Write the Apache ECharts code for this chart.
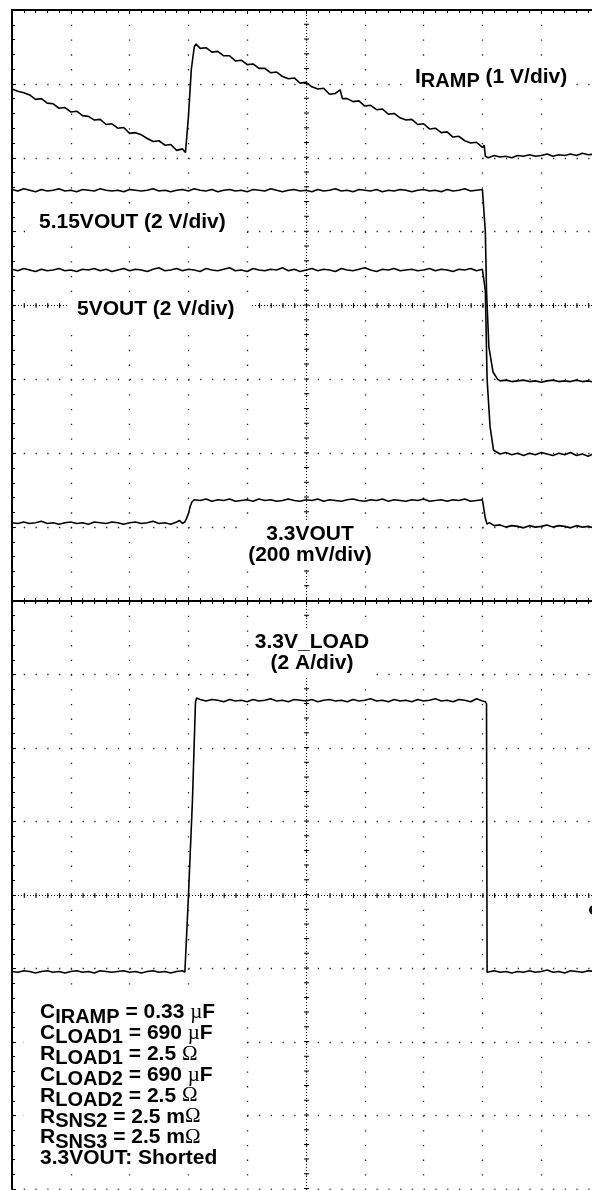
<!DOCTYPE html>
<html>
<head>
<meta charset="utf-8">
<script src="https://cdn.jsdelivr.net/npm/echarts@6/dist/echarts.min.js"></script>
<style>
* {
  margin: 0;
  padding: 0;
}
#chart-container {
  width: 592px;
  height: 1190px;
  background: #fff;
}
</style>
</head>
<body>
<div id="chart-container"></div>
<script>
// scope traces, in divisions: x = time div (0..10), y = div from bottom of its pane (0..8)
const iramp = [
  [0, 6.93], [0.1, 6.90], [0.2, 6.88], [0.3, 6.85], [0.4, 6.79], [0.5, 6.80], [0.6, 6.74], [0.7, 6.73],
  [0.8, 6.67], [0.9, 6.68], [1.0, 6.62], [1.1, 6.63], [1.2, 6.57], [1.3, 6.56], [1.4, 6.51], [1.5, 6.52],
  [1.6, 6.45], [1.7, 6.46], [1.8, 6.40], [1.9, 6.41], [2.0, 6.33], [2.1, 6.34], [2.2, 6.31], [2.3, 6.26],
  [2.4, 6.22], [2.5, 6.23], [2.6, 6.17], [2.7, 6.18], [2.8, 6.10], [2.9, 6.12], [2.95, 6.07], [3.0, 6.55],
  [3.05, 7.2], [3.1, 7.5], [3.13, 7.54], [3.2, 7.48], [3.3, 7.49], [3.4, 7.43], [3.5, 7.44], [3.6, 7.38],
  [3.7, 7.38], [3.8, 7.31], [3.9, 7.32], [4.0, 7.26], [4.1, 7.27], [4.2, 7.21], [4.3, 7.21], [4.4, 7.15],
  [4.5, 7.16], [4.6, 7.10], [4.7, 7.07], [4.8, 7.08], [4.9, 7.01], [5.0, 7.02], [5.1, 6.96], [5.2, 6.93],
  [5.3, 6.94], [5.4, 6.86], [5.5, 6.87], [5.58, 6.92], [5.62, 6.80], [5.7, 6.80], [5.8, 6.76], [5.9, 6.77],
  [6.0, 6.70], [6.1, 6.71], [6.2, 6.65], [6.3, 6.66], [6.4, 6.59], [6.5, 6.60], [6.6, 6.54], [6.7, 6.51],
  [6.8, 6.52], [6.9, 6.45], [7.0, 6.46], [7.1, 6.39], [7.2, 6.40], [7.3, 6.34], [7.4, 6.35], [7.5, 6.28],
  [7.6, 6.29], [7.7, 6.23], [7.8, 6.20], [7.9, 6.21], [8.0, 6.14], [8.03, 6.17], [8.05, 6.02], [8.1, 6.00],
  [8.2, 6.03], [8.3, 6.01], [8.4, 6.02], [8.5, 6.00], [8.6, 6.03], [8.7, 6.02], [8.8, 6.04], [8.9, 6.02],
  [9.0, 6.03], [9.1, 6.05], [9.2, 6.02], [9.3, 6.04], [9.4, 6.03], [9.5, 6.05], [9.6, 6.03], [9.7, 6.06],
  [9.8, 6.04], [9.9, 6.05], [10.0, 6.04]
]

const vout515 = [
  [0, 5.57], [0.1, 5.55], [0.2, 5.58], [0.3, 5.56], [0.4, 5.54], [0.5, 5.57], [0.6, 5.55], [0.7, 5.56],
  [0.8, 5.58], [0.9, 5.55], [1.0, 5.56], [1.1, 5.54], [1.2, 5.57], [1.3, 5.56], [1.4, 5.55], [1.5, 5.58],
  [1.6, 5.56], [1.7, 5.55], [1.8, 5.56], [1.9, 5.54], [2.0, 5.57], [2.1, 5.56], [2.2, 5.55], [2.3, 5.56],
  [2.4, 5.58], [2.5, 5.55], [2.6, 5.56], [2.7, 5.54], [2.8, 5.56], [2.9, 5.57], [3.0, 5.55], [3.1, 5.58],
  [3.2, 5.56], [3.3, 5.55], [3.4, 5.57], [3.5, 5.54], [3.6, 5.56], [3.7, 5.57], [3.8, 5.55], [3.9, 5.56],
  [4.0, 5.54], [4.1, 5.57], [4.2, 5.56], [4.3, 5.55], [4.4, 5.58], [4.5, 5.56], [4.6, 5.54], [4.7, 5.56],
  [4.8, 5.57], [4.9, 5.55], [5.0, 5.56], [5.1, 5.54], [5.2, 5.57], [5.3, 5.55], [5.4, 5.56], [5.5, 5.58],
  [5.6, 5.55], [5.7, 5.56], [5.8, 5.54], [5.9, 5.57], [6.0, 5.56], [6.1, 5.55], [6.2, 5.57], [6.3, 5.54],
  [6.4, 5.56], [6.5, 5.55], [6.6, 5.57], [6.7, 5.56], [6.8, 5.54], [6.9, 5.56], [7.0, 5.57], [7.1, 5.55],
  [7.2, 5.56], [7.3, 5.54], [7.4, 5.57], [7.5, 5.55], [7.6, 5.56], [7.7, 5.58], [7.8, 5.55], [7.9, 5.56],
  [8.0, 5.57], [8.03, 5.58], [8.05, 5.0], [8.07, 4.2], [8.11, 3.44], [8.18, 3.1], [8.26, 3.0], [8.3, 2.98],
  [8.4, 2.99], [8.5, 2.97], [8.6, 2.98], [8.7, 2.99], [8.8, 2.97], [8.9, 2.98], [9.0, 2.96], [9.1, 2.98],
  [9.2, 2.99], [9.3, 2.97], [9.4, 2.98], [9.5, 2.97], [9.6, 2.99], [9.7, 2.97], [9.8, 2.98], [9.9, 2.96],
  [10.0, 2.98]
]

const vout5 = [
  [0, 4.49], [0.1, 4.47], [0.2, 4.50], [0.3, 4.48], [0.4, 4.46], [0.5, 4.49], [0.6, 4.47], [0.7, 4.48],
  [0.8, 4.50], [0.9, 4.47], [1.0, 4.48], [1.1, 4.46], [1.2, 4.49], [1.3, 4.48], [1.4, 4.50], [1.5, 4.47],
  [1.6, 4.49], [1.7, 4.46], [1.8, 4.48], [1.9, 4.50], [2.0, 4.47], [2.1, 4.49], [2.2, 4.48], [2.3, 4.46],
  [2.4, 4.49], [2.5, 4.51], [2.6, 4.47], [2.7, 4.48], [2.8, 4.50], [2.9, 4.47], [3.0, 4.49], [3.1, 4.48],
  [3.2, 4.46], [3.3, 4.50], [3.4, 4.48], [3.5, 4.47], [3.6, 4.49], [3.7, 4.51], [3.8, 4.47], [3.9, 4.48],
  [4.0, 4.46], [4.1, 4.50], [4.2, 4.48], [4.3, 4.47], [4.4, 4.49], [4.5, 4.48], [4.6, 4.51], [4.7, 4.47],
  [4.8, 4.49], [4.9, 4.46], [5.0, 4.48], [5.1, 4.50], [5.2, 4.47], [5.3, 4.49], [5.4, 4.48], [5.5, 4.46],
  [5.6, 4.50], [5.7, 4.48], [5.8, 4.47], [5.9, 4.49], [6.0, 4.51], [6.1, 4.48], [6.2, 4.46], [6.3, 4.49],
  [6.4, 4.48], [6.5, 4.50], [6.6, 4.47], [6.7, 4.48], [6.8, 4.49], [6.9, 4.47], [7.0, 4.48], [7.1, 4.50],
  [7.2, 4.47], [7.3, 4.49], [7.4, 4.48], [7.5, 4.46], [7.6, 4.49], [7.7, 4.48], [7.8, 4.50], [7.9, 4.47],
  [8.0, 4.49], [8.03, 4.47], [8.05, 4.2], [8.08, 3.0], [8.13, 2.36], [8.19, 2.04], [8.3, 1.99], [8.4, 2.01],
  [8.5, 1.98], [8.6, 2.00], [8.7, 1.97], [8.8, 2.00], [8.9, 1.98], [9.0, 2.01], [9.1, 1.99], [9.2, 1.97],
  [9.3, 2.00], [9.4, 1.98], [9.5, 2.01], [9.6, 1.97], [9.7, 1.99], [9.8, 1.96], [9.9, 2.00], [10.0, 1.97]
]

const vout33 = [
  [0, 1.06], [0.1, 1.05], [0.2, 1.07], [0.3, 1.05], [0.4, 1.06], [0.5, 1.08], [0.6, 1.05], [0.7, 1.06],
  [0.8, 1.04], [0.9, 1.06], [1.0, 1.07], [1.1, 1.05], [1.2, 1.06], [1.3, 1.04], [1.4, 1.07], [1.5, 1.06],
  [1.6, 1.05], [1.7, 1.07], [1.8, 1.06], [1.9, 1.04], [2.0, 1.06], [2.1, 1.07], [2.2, 1.05], [2.3, 1.06],
  [2.4, 1.08], [2.5, 1.05], [2.6, 1.06], [2.7, 1.04], [2.8, 1.07], [2.85, 1.09], [2.9, 1.05], [2.94, 1.07],
  [2.97, 1.12], [3.0, 1.18], [3.03, 1.28], [3.06, 1.34], [3.1, 1.37], [3.2, 1.36], [3.3, 1.38], [3.4, 1.35],
  [3.5, 1.37], [3.6, 1.36], [3.7, 1.38], [3.8, 1.35], [3.9, 1.36], [4.0, 1.37], [4.1, 1.35], [4.2, 1.38],
  [4.3, 1.36], [4.4, 1.37], [4.5, 1.35], [4.6, 1.36], [4.7, 1.38], [4.8, 1.36], [4.9, 1.35], [5.0, 1.37],
  [5.1, 1.36], [5.2, 1.38], [5.3, 1.35], [5.4, 1.37], [5.5, 1.36], [5.6, 1.35], [5.7, 1.37], [5.8, 1.38],
  [5.9, 1.36], [6.0, 1.35], [6.1, 1.37], [6.2, 1.36], [6.3, 1.38], [6.4, 1.35], [6.5, 1.37], [6.6, 1.36],
  [6.7, 1.35], [6.8, 1.37], [6.9, 1.36], [7.0, 1.38], [7.1, 1.35], [7.2, 1.36], [7.3, 1.37], [7.4, 1.35],
  [7.5, 1.37], [7.6, 1.36], [7.7, 1.38], [7.8, 1.35], [7.9, 1.36], [8.0, 1.37], [8.03, 1.39], [8.05, 1.12],
  [8.08, 1.04], [8.12, 1.06], [8.2, 1.02], [8.3, 1.03], [8.4, 1.00], [8.5, 1.02], [8.6, 1.01], [8.7, 0.99],
  [8.8, 1.02], [8.9, 1.00], [9.0, 1.01], [9.1, 1.03], [9.2, 1.00], [9.3, 1.02], [9.4, 1.01], [9.5, 0.99],
  [9.6, 1.02], [9.7, 1.00], [9.8, 1.01], [9.9, 0.99], [10.0, 1.01]
]

const iload = [
  [0, 2.96], [0.1, 2.95], [0.2, 2.97], [0.3, 2.96], [0.4, 2.94], [0.5, 2.96], [0.6, 2.97], [0.7, 2.95],
  [0.8, 2.96], [0.9, 2.94], [1.0, 2.96], [1.1, 2.97], [1.2, 2.95], [1.3, 2.96], [1.4, 2.94], [1.5, 2.97],
  [1.6, 2.96], [1.7, 2.95], [1.8, 2.96], [1.9, 2.97], [2.0, 2.95], [2.1, 2.96], [2.2, 2.94], [2.3, 2.96],
  [2.4, 2.97], [2.5, 2.95], [2.6, 2.96], [2.7, 2.94], [2.8, 2.96], [2.9, 2.97], [2.94, 2.95], [3.0, 3.98],
  [3.07, 5.31], [3.12, 6.62], [3.14, 6.68], [3.2, 6.66], [3.3, 6.64], [3.4, 6.66], [3.5, 6.65], [3.6, 6.63],
  [3.7, 6.66], [3.8, 6.64], [3.9, 6.65], [4.0, 6.63], [4.1, 6.66], [4.2, 6.64], [4.3, 6.65], [4.4, 6.67],
  [4.5, 6.64], [4.6, 6.65], [4.7, 6.63], [4.8, 6.66], [4.9, 6.65], [5.0, 6.64], [5.1, 6.66], [5.2, 6.63],
  [5.3, 6.65], [5.4, 6.66], [5.5, 6.64], [5.6, 6.65], [5.7, 6.63], [5.8, 6.66], [5.9, 6.64], [6.0, 6.65],
  [6.1, 6.67], [6.2, 6.64], [6.3, 6.65], [6.4, 6.63], [6.5, 6.66], [6.6, 6.64], [6.7, 6.65], [6.8, 6.63],
  [6.9, 6.66], [7.0, 6.64], [7.1, 6.65], [7.2, 6.67], [7.3, 6.64], [7.4, 6.65], [7.5, 6.63], [7.6, 6.66],
  [7.7, 6.65], [7.8, 6.63], [7.9, 6.67], [8.0, 6.64], [8.05, 6.63], [8.07, 6.60], [8.08, 2.95], [8.2, 2.97],
  [8.3, 2.95], [8.4, 2.96], [8.5, 2.94], [8.6, 2.96], [8.7, 2.95], [8.8, 2.97], [8.9, 2.95], [9.0, 2.96],
  [9.1, 2.98], [9.2, 2.95], [9.3, 2.96], [9.4, 2.94], [9.5, 2.97], [9.6, 2.96], [9.7, 2.95], [9.8, 2.97],
  [9.9, 2.96], [10.0, 2.95]
]

// annotation texts
const paramLines = [
  '{m|C}{s|IRAMP}{m| = 0.33 }{g|µ}{m|F}',
  '{m|C}{s|LOAD1}{m| = 690 }{g|µ}{m|F}',
  '{m|R}{s|LOAD1}{m| = 2.5 }{g|Ω}',
  '{m|C}{s|LOAD2}{m| = 690 }{g|µ}{m|F}',
  '{m|R}{s|LOAD2}{m| = 2.5 }{g|Ω}',
  '{m|R}{s|SNS2}{m| = 2.5 m}{g|Ω}',
  '{m|R}{s|SNS3}{m| = 2.5 m}{g|Ω}',
  '{m|3.3VOUT: Shorted}'
]

const FONT = '"Liberation Sans", Arial, sans-serif'
const BOLD = 'bold 21px ' + FONT

const rich = {
  m: { font: BOLD, fill: '#000' },
  s: { font: 'bold 20px ' + FONT, fill: '#000', padding: [9, 0, 0, 0] },
  g: { font: '21px "Liberation Serif", serif', fill: '#000' }
}

const border = (extra) => Object.assign({
  type: 'value',
  min: 0,
  max: 10,
  interval: 1,
  axisLine: { show: true, onZero: false, lineStyle: { color: '#000', width: 2 } },
  axisTick: { show: true, inside: true, length: 4, lineStyle: { color: '#000', width: 1 } },
  minorTick: { show: true, splitNumber: 5, length: 3, lineStyle: { color: '#000', width: 1 } },
  axisLabel: { show: false },
  splitLine: { show: false }
}, extra)

const dots = (gap) => ({ show: true, lineStyle: { color: '#222', width: 1.3, type: [1.3, gap - 1.3] } })

const centerLines = (vGap, hGap) => ({
  silent: true,
  symbol: ['none', 'none'],
  label: { show: false },
  animation: false,
  data: [
    { xAxis: 5, lineStyle: { color: '#000', width: 1, type: [1, 2] } },
    { xAxis: 5, lineStyle: { color: '#000', width: 5, type: [1, vGap - 1] } },
    { yAxis: 4, lineStyle: { color: '#000', width: 1, type: [1, 2] } },
    { yAxis: 4, lineStyle: { color: '#000', width: 5, type: [1, hGap - 1] } }
  ]
})

const trace = (name, data, xi, yi, markLine) => ({
  name: name,
  type: 'line',
  data: data,
  xAxisIndex: xi,
  yAxisIndex: yi,
  showSymbol: false,
  symbol: 'none',
  silent: true,
  animation: false,
  lineStyle: { color: '#000', width: 1.6 },
  markLine: markLine
})

const textEl = (x, y, text, style) => ({
  type: 'text',
  x: x,
  y: y,
  z: 100,
  silent: true,
  style: Object.assign({ text: text, font: BOLD, fill: '#000', rich: rich, verticalAlign: 'middle' }, style)
})

const elements = [
  { type: 'rect', z: 99, silent: true, shape: { x: 24, y: 998, width: 222, height: 174 }, style: { fill: '#fff' } },
  textEl(409, 77, '{m|I}{s|RAMP}{m| (1 V/div)}', { backgroundColor: '#fff', padding: [2, 6] }),
  textEl(25, 222, '5.15VOUT (2 V/div)', { backgroundColor: '#fff', padding: [3, 14] }),
  textEl(67, 309, '5VOUT (2 V/div)', { backgroundColor: '#fff', padding: [3, 16, 3, 10] }),
  textEl(310, 545, '3.3VOUT\n(200 mV/div)', { align: 'center', lineHeight: 21, backgroundColor: '#fff', padding: [4, 4] }),
  textEl(312, 653, '3.3V_LOAD\n(2 A/div)', { align: 'center', lineHeight: 21, backgroundColor: '#fff', padding: [4, 4] }),
  { type: 'circle', z: 100, silent: true, shape: { cx: 594, cy: 910, r: 5 }, style: { fill: '#000' } }
]
paramLines.forEach((line, i) => {
  elements.push(textEl(40, 1012.5 + i * 20.86, line, {}))
})

const chart = echarts.init(document.getElementById('chart-container'))

const option = {
  backgroundColor: '#fff',
  animation: false,
  grid: [
    { left: 12, top: 10, width: 588, height: 591, outerBoundsMode: 'none', containLabel: false },
    { left: 12, top: 601, width: 588, height: 588, outerBoundsMode: 'none', containLabel: false }
  ],
  xAxis: [
    border({ gridIndex: 0, position: 'top', splitLine: dots(14.775) }),
    border({ gridIndex: 0, position: 'bottom' }),
    border({ gridIndex: 1, position: 'top', splitLine: dots(14.7) })
  ],
  yAxis: [
    border({ gridIndex: 0, max: 8, position: 'left', splitLine: dots(11.76) }),
    border({ gridIndex: 1, max: 8, position: 'left', splitLine: dots(11.76) })
  ],
  series: [
    trace('IRAMP', iramp, 0, 0, centerLines(14.775, 11.76)),
    trace('5.15VOUT', vout515, 0, 0),
    trace('5VOUT', vout5, 0, 0),
    trace('3.3VOUT', vout33, 0, 0),
    trace('3.3V_LOAD', iload, 2, 1, centerLines(14.7, 11.76))
  ],
  graphic: { elements: elements }
}

chart.setOption(option)
</script>
</body>
</html>
